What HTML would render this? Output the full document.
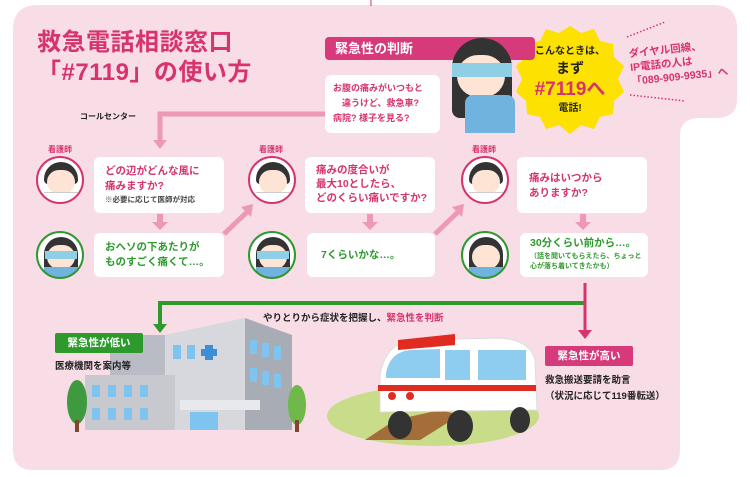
<!DOCTYPE html>
<html><head><meta charset="utf-8"><style>
*{margin:0;padding:0;box-sizing:border-box}
body{width:750px;height:477px;background:#fff;position:relative;overflow:hidden;font-family:"Liberation Sans","Noto Sans CJK JP",sans-serif;font-weight:bold}
.a{position:absolute}
.box{position:absolute;background:#fff;border-radius:6px}
.pk{color:#d6336f}.gr{color:#2e9a2e}
.t{position:absolute;font-size:10.5px;line-height:15px}
.circ{position:absolute;width:48px;height:48px;border-radius:50%;background:#fff;border:2px solid #d6336f;overflow:hidden}
.circ.g{border-color:#2e9a2e}
.circ .hair{position:absolute;left:6px;top:4px;width:34px;height:22px;background:#333;border-radius:17px 17px 4px 4px}
.circ.g .hair{height:40px;border-radius:17px 17px 2px 2px}
.circ .face{position:absolute;left:9px;top:12px;width:28px;height:24px;background:#fde4d4;border-radius:12px}
.circ .body{position:absolute;left:6px;top:34px;width:34px;height:14px;background:#fff;border-top:1px solid #ccc}
.circ.g .body{background:#6fb3de;border:none}
.circ .mask{position:absolute;left:7px;top:18px;width:32px;height:8px;background:#8ecfe6}
.lbl{position:absolute;font-size:8px;color:#d6336f}
.tag{position:absolute;color:#fff;font-size:10.5px;text-align:center;line-height:20px;border-radius:2px}
</style></head><body>
<svg class="a" style="left:0;top:0" width="750" height="477">
<path d="M13 30 Q13 5 38 5 L713 5 Q737 5 737 28 L737 100 Q737 118 715 118 L700 118 Q680 118 680 135 L680 450 Q680 470 660 470 L33 470 Q13 470 13 450 Z" fill="#f8dce6"/>
<line x1="371" y1="0" x2="371" y2="6" stroke="#d6336f" stroke-width="1"/>
<path d="M325 114 L160 114 L160 142" fill="none" stroke="#ec98b6" stroke-width="5"/>
<path d="M153 140 L167 140 L160 149 Z" fill="#ec98b6"/>
<g fill="#ec98b6">
<rect x="157" y="214" width="6" height="10"/><path d="M152 222 L168 222 L160 230 Z"/>
<rect x="367" y="214" width="6" height="10"/><path d="M362 222 L378 222 L370 230 Z"/>
<rect x="580" y="214" width="6" height="10"/><path d="M575 222 L591 222 L583 230 Z"/>
</g>
<g stroke="#ec98b6" stroke-width="5"><line x1="224" y1="234" x2="247" y2="212"/><line x1="435" y1="234" x2="458" y2="212"/></g>
<g fill="#ec98b6"><path d="M253 204 L241 207 L251 217 Z"/><path d="M464 204 L452 207 L462 217 Z"/></g>
<path d="M585 303 L160 303 L160 325" fill="none" stroke="#2e9a2e" stroke-width="4"/>
<path d="M153 324 L167 324 L160 333 Z" fill="#2e9a2e"/>
<line x1="585" y1="283" x2="585" y2="332" stroke="#d6336f" stroke-width="3"/>
<path d="M578 330 L592 330 L585 339 Z" fill="#d6336f"/>
<g stroke="#d6336f" stroke-width="1.5" stroke-dasharray="1.5 2"><line x1="627" y1="37" x2="665" y2="22"/><line x1="630" y1="95" x2="685" y2="101"/></g>
<polygon fill="#fde100" points="570,26 581,33 594,29 600,41 613,44 614,57 624,66 618,79 624,92 614,101 613,114 600,117 594,129 581,125 570,134 559,125 546,129 540,117 527,114 526,101 516,92 522,79 516,66 526,57 527,44 540,41 546,29 559,33"/>
<g>
<rect x="110" y="335" width="60" height="95" fill="#b9bcc4"/>
<polygon points="165,335 245,318 245,430 165,430" fill="#d6d8de"/>
<polygon points="245,318 292,335 292,430 245,430" fill="#a8acb4"/>
<rect x="85" y="375" width="90" height="55" fill="#c7c9cf"/>
<rect x="180" y="400" width="80" height="10" fill="#e8e9ec"/>
<rect x="205" y="345" width="8" height="15" fill="#3b8fd6"/><rect x="201" y="349" width="16" height="7" fill="#3b8fd6"/>
<g fill="#7ec4ef"><rect x="173" y="345" width="8" height="14"/><rect x="187" y="345" width="8" height="14"/><rect x="250" y="340" width="7" height="14"/><rect x="262" y="343" width="7" height="14"/><rect x="274" y="346" width="7" height="14"/><rect x="250" y="368" width="7" height="14"/><rect x="262" y="371" width="7" height="14"/><rect x="274" y="374" width="7" height="14"/><rect x="92" y="385" width="8" height="12"/><rect x="108" y="385" width="8" height="12"/><rect x="124" y="385" width="8" height="12"/><rect x="140" y="385" width="8" height="12"/><rect x="92" y="408" width="8" height="12"/><rect x="108" y="408" width="8" height="12"/><rect x="124" y="408" width="8" height="12"/><rect x="140" y="408" width="8" height="12"/><rect x="190" y="412" width="28" height="18"/></g>
<ellipse cx="77" cy="402" rx="10" ry="22" fill="#3f9a3f"/><rect x="75" y="420" width="4" height="12" fill="#7a4a2a"/>
<ellipse cx="297" cy="405" rx="9" ry="20" fill="#6fb84a"/><rect x="295" y="420" width="4" height="12" fill="#7a4a2a"/>
</g>
<ellipse cx="433" cy="416" rx="106" ry="30" fill="#c8dc8a"/>
<path d="M365 440 L395 420 L440 410 L460 415 L420 440 Z" fill="#a56d3a"/>
<path d="M380 400 L380 375 Q385 345 410 340 L500 338 Q530 340 535 360 L537 410 L380 412 Z" fill="#fff" stroke="#ddd"/>
<path d="M398 340 L455 334 L455 345 L398 350 Z" fill="#e02b20"/>
<rect x="378" y="385" width="158" height="6" fill="#e02b20"/>
<path d="M386 373 Q390 352 410 350 L440 349 L440 378 L386 378 Z" fill="#8fcdf0"/>
<rect x="445" y="350" width="25" height="30" fill="#8fcdf0"/><rect x="478" y="350" width="48" height="30" fill="#8fcdf0"/>
<circle cx="392" cy="396" r="4" fill="#e02b20"/><circle cx="410" cy="396" r="4" fill="#e02b20"/>
<ellipse cx="400" cy="425" rx="12" ry="14" fill="#333"/><ellipse cx="460" cy="426" rx="13" ry="16" fill="#333"/><ellipse cx="520" cy="420" rx="10" ry="13" fill="#333"/>
</svg>

<div class="a pk" style="left:37px;top:28px;font-size:24px;line-height:30px;letter-spacing:0.5px">救急電話相談窓口<br>「#7119」の使い方</div>

<div class="a" style="left:325px;top:37px;width:210px;height:23px;background:#d63a7b;border-radius:4px;color:#fff;font-size:13px;line-height:23px;padding-left:10px">緊急性の判断</div>
<div class="box" style="left:325px;top:75px;width:115px;height:58px"></div>
<div class="t pk" style="left:333px;top:81px;font-size:9px;line-height:15px">お腹の痛みがいつもと<br>　違うけど、救急車?<br>病院? 様子を見る?</div>
<div class="a" style="left:452px;top:38px;width:60px;height:80px;background:#333;border-radius:30px 30px 8px 8px"></div>
<div class="a" style="left:457px;top:55px;width:48px;height:42px;background:#fde4d4;border-radius:22px"></div>
<div class="a" style="left:452px;top:63px;width:60px;height:14px;background:#8ecfe6"></div>
<div class="a" style="left:465px;top:95px;width:50px;height:38px;background:#6fb3de;border-radius:8px 8px 0 0"></div>

<div class="a" style="left:525px;top:44px;width:90px;text-align:center;font-size:10px;line-height:16px;color:#222">こんなときは、<br><span style="font-size:14px">まず</span><br><span class="pk" style="font-size:19px;line-height:22px">#7119へ</span><br>電話!</div>
<div class="a pk" style="left:630px;top:42px;font-size:10.5px;line-height:14px;transform:rotate(-6deg)">ダイヤル回線、<br>IP電話の人は<br>「089-909-9935」へ</div>

<div class="a" style="left:80px;top:111px;font-size:8px;color:#222">コールセンター</div>

<div class="lbl" style="left:48px;top:144px">看護師</div>
<div class="lbl" style="left:259px;top:144px">看護師</div>
<div class="lbl" style="left:472px;top:144px">看護師</div>
<div class="circ" style="left:36px;top:156px"><div class="hair"></div><div class="face"></div><div class="body"></div></div>
<div class="circ" style="left:248px;top:156px"><div class="hair"></div><div class="face"></div><div class="body"></div></div>
<div class="circ" style="left:461px;top:156px"><div class="hair"></div><div class="face"></div><div class="body"></div></div>
<div class="circ g" style="left:36px;top:231px"><div class="hair"></div><div class="face"></div><div class="mask"></div><div class="body"></div></div>
<div class="circ g" style="left:248px;top:231px"><div class="hair"></div><div class="face"></div><div class="mask"></div><div class="body"></div></div>
<div class="circ g" style="left:461px;top:231px"><div class="hair"></div><div class="face"></div><div class="body"></div></div>

<div class="box" style="left:94px;top:157px;width:130px;height:56px"></div>
<div class="t pk" style="left:105px;top:164px">どの辺がどんな風に<br>痛みますか?</div>
<div class="t" style="left:105px;top:195px;font-size:7.5px;color:#444;line-height:10px">※必要に応じて医師が対応</div>
<div class="box" style="left:305px;top:157px;width:130px;height:56px"></div>
<div class="t pk" style="left:316px;top:163px;line-height:14px">痛みの度合いが<br>最大10としたら、<br>どのくらい痛いですか?</div>
<div class="box" style="left:517px;top:157px;width:130px;height:56px"></div>
<div class="t pk" style="left:529px;top:171px">痛みはいつから<br>ありますか?</div>

<div class="box" style="left:94px;top:233px;width:130px;height:44px"></div>
<div class="t gr" style="left:105px;top:240px">おヘソの下あたりが<br>ものすごく痛くて…。</div>
<div class="box" style="left:307px;top:233px;width:128px;height:44px"></div>
<div class="t gr" style="left:321px;top:248px">7くらいかな…。</div>
<div class="box" style="left:520px;top:233px;width:128px;height:44px"></div>
<div class="t gr" style="left:530px;top:236px">30分くらい前から…。</div>
<div class="t gr" style="left:530px;top:252px;font-size:7px;line-height:10px">（話を聞いてもらえたら、ちょっと<br>心が落ち着いてきたかも）</div>

<div class="a" style="left:263px;top:310px;font-size:9.5px;color:#222">やりとりから症状を把握し、<span class="pk">緊急性を判断</span></div>
<div class="tag" style="left:55px;top:333px;width:88px;background:#2e9a2e">緊急性が低い</div>
<div class="a" style="left:55px;top:358px;font-size:9.5px;color:#222">医療機関を案内等</div>
<div class="tag" style="left:545px;top:346px;width:88px;background:#d63a7b">緊急性が高い</div>
<div class="a" style="left:545px;top:373px;font-size:9.5px;color:#222;line-height:16px">救急搬送要請を助言<br>（状況に応じて119番転送）</div>
</body></html>
